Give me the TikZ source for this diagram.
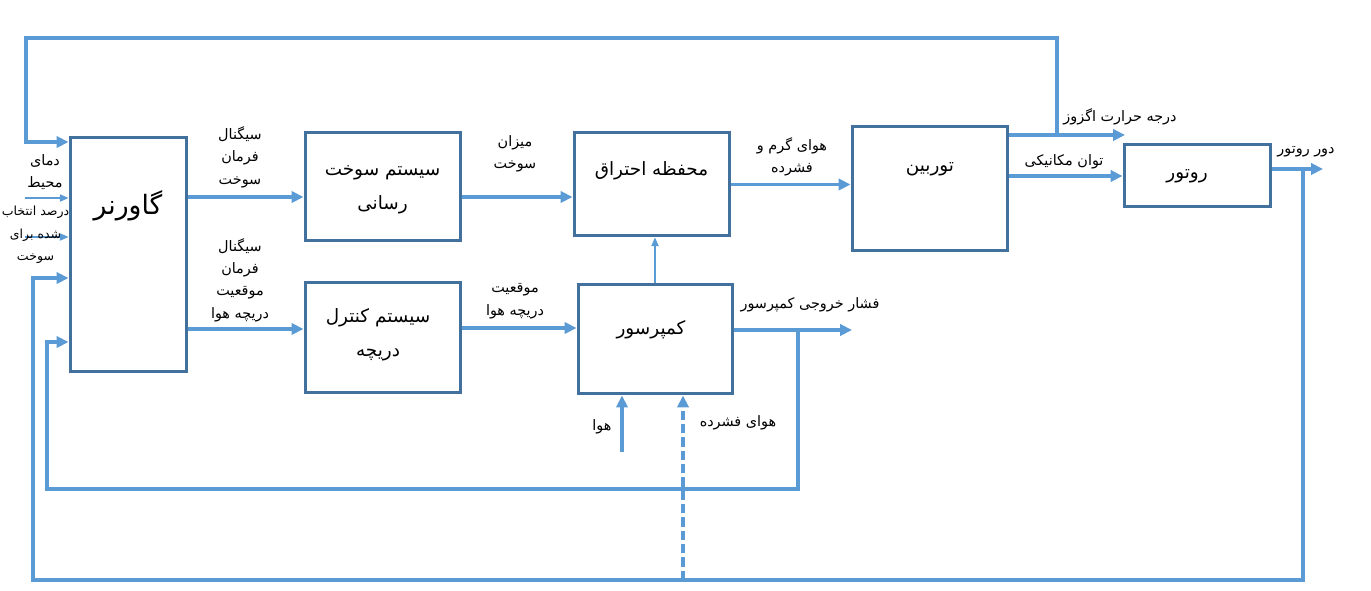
\documentclass[tikz,border=0pt]{standalone}
\usepackage{fontspec}
\usetikzlibrary{arrows.meta}
\newfontfamily\fafont[Script=Arabic]{DejaVu Sans}
\TeXXeTstate=1
\newcommand\fa[1]{\beginR #1\endR}
\definecolor{boxc}{HTML}{41719C}
\definecolor{linec}{HTML}{5B9BD5}
\begin{document}
\begin{tikzpicture}[x=0.75pt,y=-0.75pt,
  box/.style={draw=boxc, line width=2.25pt, inner sep=0pt, fill=white},
  conn/.style={draw=linec, line width=2.6pt, -{Triangle[length=9pt,width=8.5pt]}},
  lnk/.style={draw=linec, line width=2.6pt},
  thinarr/.style={draw=linec, line width=0.8pt, -{Triangle[length=6.5pt,width=5.5pt]}},
  lbl/.style={font=\fafont\fontsize{10.8}{16.8}\selectfont, align=center, inner sep=0pt},
  blbl/.style={font=\fafont\fontsize{13.8}{25.5}\selectfont, align=center, inner sep=0pt},
  line join=miter]
\useasboundingbox (0,0) rectangle (1371,591);

% boxes
\node[box, minimum width=87pt, minimum height=175.5pt] (gov) at (128,255) {};
\node[box, minimum width=116.25pt, minimum height=81pt] (fuel) at (382.5,187) {};
\node[box, minimum width=116.25pt, minimum height=77.25pt] (comb) at (651.5,184.5) {};
\node[box, minimum width=116.25pt, minimum height=93pt] (turb) at (929.5,189) {};
\node[box, minimum width=109.5pt, minimum height=46.5pt] (rotor) at (1197,176) {};
\node[box, minimum width=116.25pt, minimum height=82.5pt] (valve) at (382.5,338) {};
\node[box, minimum width=115.5pt, minimum height=81.75pt] (comp) at (655,339.5) {};

% box texts
\node[font=\fafont\fontsize{20}{25}\selectfont, inner sep=0pt] (govt) at (128,206) {\fa{گاورنر}};
\node[blbl] (fuelt) at (382.5,190) {\fa{سیستم سوخت}\\\fa{رسانی}};
\node[blbl] (combt) at (651.5,171) {\fa{محفظه احتراق}};
\node[blbl] (turbt) at (930,169) {\fa{توربین}};
\node[blbl] (rotort) at (1187,176) {\fa{روتور}};
\node[blbl] (valvet) at (378,335) {\fa{سیستم کنترل}\\\fa{دریچه}};
\node[blbl] (compt) at (651,330) {\fa{کمپرسور}};

% helper coordinates
\path ([yshift=-7.5pt]fuel.west) coordinate (fin);
\path ([yshift=-7.5pt]fuel.east) coordinate (fout);
\path ([yshift=6.75pt]valve.west) coordinate (vin);
\path ([yshift=7.5pt]valve.east) coordinate (vout);
\path ([yshift=7.125pt]comp.east) coordinate (cout);
\path ([yshift=40.5pt]turb.east) coordinate (texh);
\path ([yshift=5.25pt]rotor.east) coordinate (ro);
\coordinate (exh) at (1125,135);
\coordinate (tj) at (1057,135);
\coordinate (tl) at (26,38);
\coordinate (tb) at (26,142);
\coordinate (rout) at (1323,169);
\coordinate (rj) at (1303,169);
\coordinate (br) at (1303,580);
\coordinate (bl) at (33,580);
\coordinate (bi) at (33,278);
\coordinate (pout) at (852,330);
\coordinate (pj) at (798,330);
\coordinate (pb) at (798,489);
\coordinate (pl) at (47,489);
\coordinate (pi) at (47,342);
\coordinate (air) at (622,452);
\coordinate (dj) at (683,580);
\coordinate (i1) at (25,198);
\coordinate (i2) at (25,237);

% connectors
\draw[conn] (gov.east |- fin) -- (fin);
\draw[conn] (gov.east |- vin) -- (vin);
\draw[conn] (fout) -- (comb.west |- fout);
\draw[conn] (vout) -- (comp.west |- vout);
\draw[thinarr] (comp.north) -- (comb.south -| comp.north);
\draw[conn] (comb.east) -- (turb.west |- comb.east);
\draw[conn] (texh) -- (exh);
\draw[conn] (tj) |- (tl) -- (tb) -- (gov.west |- tb);
\draw[conn] (turb.east |- rotor.west) -- (rotor.west);
\draw[conn] (ro) -- (rout);
\draw[conn] (rj) -- (br) -- (bl) -- (bi) -- (gov.west |- bi);
\draw[conn] (cout) -- (pout);
\draw[conn] (pj) -- (pb) -- (pl) -- (pi) -- (gov.west |- pi);
\draw[conn] (air) -- (comp.south -| air);
\draw[conn, dash pattern=on 7pt off 3pt] (dj) -- (comp.south -| dj);
\draw[thinarr] (i1) -- (gov.west |- i1);
\draw[thinarr] (i2) -- (gov.west |- i2);

% labels
\node[lbl] (l1) at (240,157) {\fa{سیگنال}\\\fa{فرمان}\\\fa{سوخت}};
\node[lbl] (l2) at (240,280) {\fa{سیگنال}\\\fa{فرمان}\\\fa{موقعیت}\\\fa{دریچه هوا}};
\node[lbl] (l3) at (515,154) {\fa{میزان}\\\fa{سوخت}};
\node[lbl] (l4) at (515,301) {\fa{موقعیت}\\\fa{دریچه هوا}};
\node[lbl] (l5) at (792,157) {\fa{هوای گرم و}\\\fa{فشرده}};
\node[lbl] (l6) at (1120,117) {\fa{درجه حرارت اگزوز}};
\node[lbl] (l7) at (1064,162) {\fa{توان مکانیکی}};
\node[lbl] (l8) at (1306,152) {\fa{دور روتور}};
\node[lbl] (l9) at (810,305) {\fa{فشار خروجی کمپرسور}};
\node[lbl] (l10) at (602,427) {\fa{هوا}};
\node[lbl] (l11) at (738,423) {\fa{هوای فشرده}};
\node[lbl] (l12) at (45,172) {\fa{دمای}\\\fa{محیط}};
\node[lbl, font=\fafont\fontsize{9.4}{16.8}\selectfont] (l13) at (35.5,235) {\fa{درصد انتخاب}\\\fa{شده برای}\\\fa{سوخت}};
\end{tikzpicture}
\end{document}
